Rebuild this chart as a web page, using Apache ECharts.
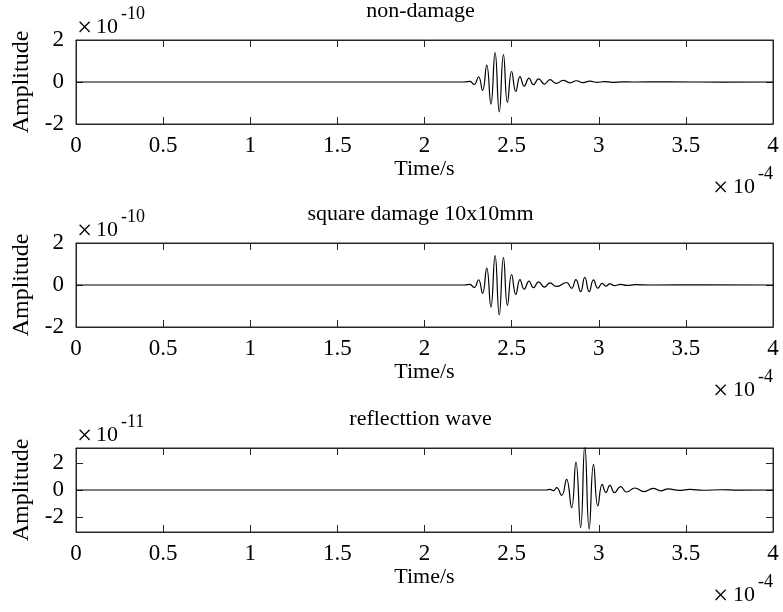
<!DOCTYPE html>
<html lang="en">
<head>
<meta charset="UTF-8">
<title>Wave signals</title>
<style>
  html, body { margin: 0; padding: 0; background: #fff; }
  #chart { width: 783px; height: 612px; }
</style>
</head>
<body>
<div id="chart"></div>
<script src="https://cdn.jsdelivr.net/npm/echarts@6/dist/echarts.min.js"></script>
<script>
// time axis in units of 1e-4 s
var xTicks = [0, 0.5, 1, 1.5, 2, 2.5, 3, 3.5, 4];

// non-damage, amplitude x1e-10
var t1 = [0, 2.23, 2.26, 2.285, 2.31, 2.333, 2.357, 2.381, 2.405, 2.429, 2.453, 2.476, 2.5, 2.524, 2.548, 2.572, 2.6, 2.625, 2.655, 2.688, 2.72, 2.757, 2.796, 2.835, 2.872, 2.91, 2.949, 2.99, 3.03, 3.08, 3.13, 3.2, 3.4, 3.7, 4];
var a1 = [0, 0, 0.03, -0.12, 0.25, -0.4, 0.8, -1.05, 1.4, -1.42, 1.3, -0.97, 0.5, -0.45, 0.26, -0.2, 0.18, -0.13, 0.15, -0.1, 0.11, -0.07, 0.08, -0.04, 0.06, -0.03, 0.04, -0.02, 0.02, -0.015, 0.01, 0, 0.005, -0.005, 0];

// square damage 10x10mm, amplitude x1e-10
var t2 = [0, 2.23, 2.26, 2.285, 2.31, 2.333, 2.357, 2.381, 2.405, 2.429, 2.453, 2.476, 2.5, 2.524, 2.548, 2.572, 2.6, 2.625, 2.655, 2.688, 2.72, 2.757, 2.815, 2.844, 2.869, 2.896, 2.92, 2.945, 2.97, 2.995, 3.02, 3.041, 3.064, 3.09, 3.125, 3.16, 3.21, 3.3, 3.6, 4];
var a2 = [0, 0, 0.03, -0.12, 0.25, -0.4, 0.8, -1.05, 1.4, -1.42, 1.3, -0.97, 0.5, -0.45, 0.26, -0.2, 0.18, -0.13, 0.15, -0.1, 0.1, -0.07, 0.12, -0.16, 0.26, -0.32, 0.37, -0.32, 0.24, -0.15, 0.08, -0.05, 0.05, -0.03, 0.03, -0.02, 0.015, 0, 0.004, 0];

// reflection wave, amplitude x1e-11
var t3 = [0, 2.7, 2.72, 2.74, 2.758, 2.787, 2.815, 2.844, 2.869, 2.896, 2.92, 2.945, 2.97, 2.995, 3.02, 3.041, 3.064, 3.09, 3.125, 3.16, 3.207, 3.26, 3.312, 3.355, 3.398, 3.46, 3.523, 3.6, 3.7, 3.8, 4];
var a3 = [0, 0, 0.05, -0.05, 0.17, -0.4, 0.79, -1.31, 2.07, -2.79, 3.3, -2.91, 1.9, -1.19, 0.42, -0.2, 0.35, -0.2, 0.25, -0.15, 0.15, -0.12, 0.12, -0.06, 0.08, -0.03, 0.05, -0.02, 0.02, -0.01, 0];

var titles = ['non-damage', 'square damage 10x10mm', 'reflecttion wave'];
var yExp = ['-10', '-10', '-11'];
var yTicks = [[-2, 0, 2], [-2, 0, 2], [-2, 0, 2]];
var yLims = [[-2, 2], [-2, 2], [-3.12, 3.12]];

var FONT = "'Liberation Serif', 'Times New Roman', serif";
var INK = '#262626';
var tops = [40, 243, 448];
var L = 76, W = 697, H = 84;

function pairs(t, a) {
  return t.map(function (v, i) { return [v, a[i]]; });
}
var seriesData = [pairs(t1, a1), pairs(t2, a2), pairs(t3, a3)];

var grids = [], xAxes = [], yAxes = [], series = [], graphics = [];

function label(text, size, x, y, align) {
  return { type: 'text', z: 10,
    style: { text: text, font: size + 'px ' + FONT, fill: '#000', x: x, y: y,
      textAlign: align || 'left', align: align || 'left',
      textVerticalAlign: 'middle', verticalAlign: 'middle' } };
}

for (var i = 0; i < 3; i++) {
  grids.push({ left: L, top: tops[i], width: W, height: H, show: true, borderColor: INK, borderWidth: 1 });

  var xBase = {
    gridIndex: i, type: 'value', min: 0, max: 4, interval: 0.5,
    axisLine: { show: true, onZero: false, lineStyle: { color: INK, width: 1 } },
    axisTick: { show: true, inside: true, length: 7, lineStyle: { color: INK } },
    splitLine: { show: false }
  };
  xAxes.push(Object.assign({}, xBase, {
    position: 'bottom',
    name: 'Time/s', nameLocation: 'middle', nameGap: 24,
    nameTextStyle: { fontFamily: FONT, fontSize: 22, color: '#000' },
    axisLabel: { show: true, margin: 10, fontFamily: FONT, fontSize: 23, color: '#000',
      customValues: xTicks }
  }));
  xAxes.push(Object.assign({}, xBase, { position: 'top', axisLabel: { show: false } }));

  var yBase = {
    gridIndex: i, type: 'value', min: yLims[i][0], max: yLims[i][1],
    axisLine: { show: true, onZero: false, lineStyle: { color: INK, width: 1 } },
    axisTick: { show: true, inside: true, length: 7, lineStyle: { color: INK }, customValues: yTicks[i] },
    splitLine: { show: false }
  };
  yAxes.push(Object.assign({}, yBase, {
    position: 'left',
    name: 'Amplitude', nameLocation: 'middle', nameGap: 33,
    nameTextStyle: { fontFamily: FONT, fontSize: 24, color: '#000' },
    axisLabel: { show: true, margin: 12, fontFamily: FONT, fontSize: 23, color: '#000',
      customValues: yTicks[i] }
  }));
  yAxes.push(Object.assign({}, yBase, { position: 'right', axisLabel: { show: false } }));

  series.push({
    type: 'line', xAxisIndex: i * 2, yAxisIndex: i * 2,
    data: seriesData[i], showSymbol: false, smooth: 0.5,
    lineStyle: { color: '#000', width: 1.2 }, animation: false
  });

  // subplot title
  graphics.push(label(titles[i], 22, L + W / 2 - 4, tops[i] - 29, 'center'));
  // y exponent
  graphics.push(label('\u00d7', 27, 77, tops[i] - 11));
  graphics.push(label('10', 22, 96, tops[i] - 13));
  graphics.push(label(yExp[i], 18, 121, tops[i] - 26));
  // x exponent
  graphics.push(label('\u00d7', 27, 713, tops[i] + H + 65));
  graphics.push(label('10', 22, 733, tops[i] + H + 63));
  graphics.push(label('-4', 18, 758, tops[i] + H + 50));
}

var chart = echarts.init(document.getElementById('chart'));
chart.setOption({
  animation: false,
  backgroundColor: '#fff',
  grid: grids,
  xAxis: xAxes,
  yAxis: yAxes,
  series: series,
  graphic: graphics
});
</script>
</body>
</html>
